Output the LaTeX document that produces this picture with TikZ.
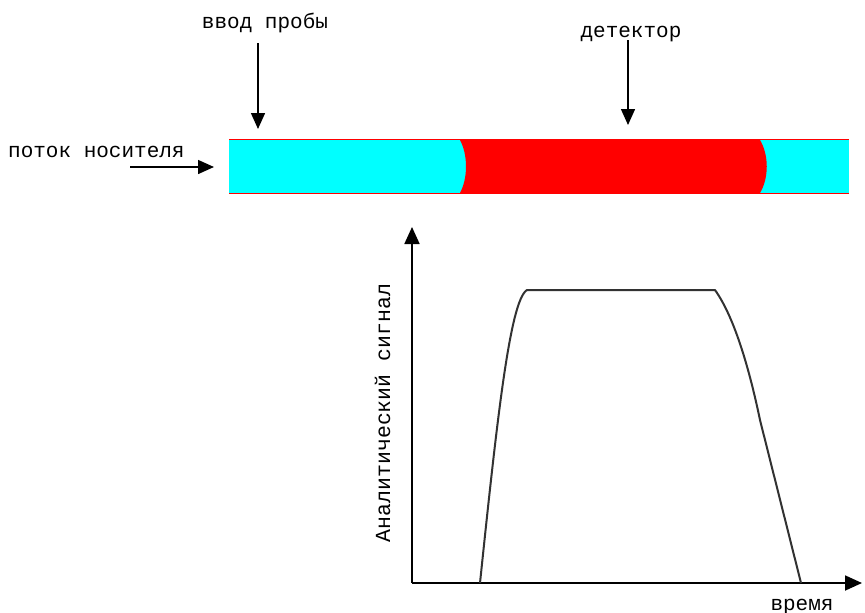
\documentclass[tikz,border=0pt]{standalone}
\usepackage{fontspec}
\setmainfont{Liberation Mono}
\usetikzlibrary{arrows.meta}
\definecolor{flowcyan}{RGB}{0,255,255}
\definecolor{plugred}{RGB}{255,0,0}
\definecolor{curvegray}{RGB}{50,50,50}
\tikzset{
  lbl/.style={font=\fontsize{21}{23}\selectfont, inner sep=0pt, anchor=base},
  pointer/.style={line width=1.5pt, -{Triangle[length=16pt,width=14pt]}},
  axis/.style={line width=1.8pt, -{Triangle[length=17pt,width=15pt]}},
  signal/.style={line width=2pt, draw=curvegray}
}
\begin{document}
\begin{tikzpicture}[x=1pt,y=-1pt]
  \useasboundingbox (0,0) rectangle (865,613);
  \fill[white] (0,0) rectangle (865,613);

  % tube filled with carrier flow
  \fill[flowcyan] (229,140) rectangle (849,193);
  % sample plug with convex front and rear boundaries
  \fill[plugred] (460,140) .. controls (468,155) and (468,178) .. (460,193)
    -- (760,193) .. controls (769,178) and (769,155) .. (760,140) -- cycle;
  \draw[plugred, line width=1.6pt] (229,139.5) -- (849,139.5);
  \draw[plugred, line width=1.6pt] (229,193.5) -- (849,193.5);

  % labels
  \node[lbl] (inj) at (265,28) {ввод пробы};
  \node[lbl] (det) at (631,37) {детектор};
  \node[lbl, anchor=base west] (carrier) at (8,157) {поток носителя};
  \node[lbl] (time) at (802,610) {время};

  \coordinate (injtip) at (258,129);
  \coordinate (dettip) at (628,125);
  \coordinate (carstart) at (130,167);
  \coordinate (cartip) at (214,167);
  \draw[pointer] (258,43) -- (injtip);
  \draw[pointer] (628,40) -- (dettip);
  \draw[pointer] (carstart) -- (cartip);

  % axes
  \coordinate (origin) at (412,583);
  \coordinate (ytip) at (412,227);
  \coordinate (xtip) at (862,583);
  \draw[axis] (origin) -- (ytip);
  \draw[axis] (origin) -- (xtip);
  \node[lbl, rotate=90, anchor=base] (ylabel) at (390,413)
    {\fontsize{21.5}{23}\selectfont Аналитический сигнал};

  % detector response
  \draw[signal, line join=round] (480,583) .. controls (497,420) and (510,300) .. (527,290)
    -- (715,290) .. controls (735,318) and (750,372) .. (760,420) -- (801,583);
\end{tikzpicture}
\end{document}
